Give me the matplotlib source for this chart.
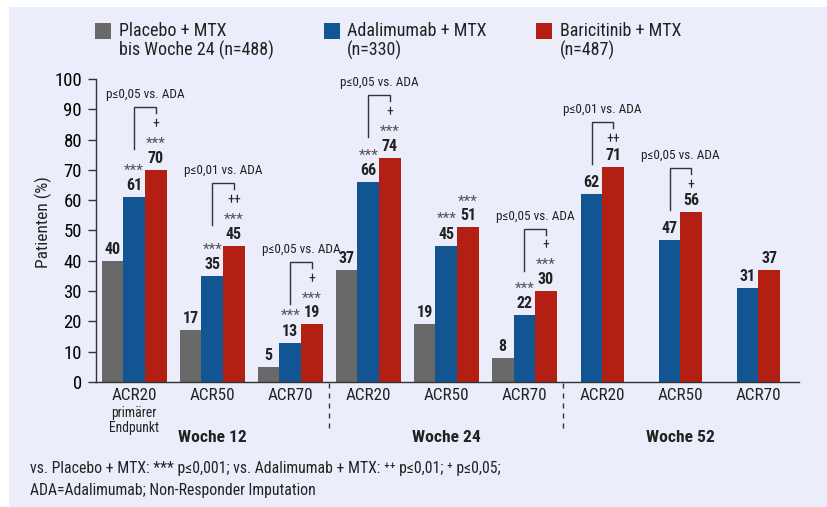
import matplotlib
matplotlib.use('Agg')
import matplotlib.pyplot as plt
from matplotlib import font_manager as fm
from matplotlib.patches import Rectangle
import numpy as np

# ---------------- data ----------------
weeks = ['Woche 12', 'Woche 24', 'Woche 52']
categories = ['ACR20', 'ACR50', 'ACR70', 'ACR20', 'ACR50', 'ACR70', 'ACR20', 'ACR50', 'ACR70']
placebo = [40, 17, 5, 37, 19, 8, None, None, None]
adalimumab = [61, 35, 13, 66, 45, 22, 62, 47, 31]
baricitinib = [70, 45, 19, 74, 51, 30, 71, 56, 37]
stars_vs_placebo = [True, True, True, True, True, True, False, False, False]
plus_vs_ada = ['+', '++', '+', '+', '', '+', '++', '+', '']
p_text_vs_ada = ['p≤0,05 vs. ADA', 'p≤0,01 vs. ADA', 'p≤0,05 vs. ADA',
                 'p≤0,05 vs. ADA', '', 'p≤0,05 vs. ADA',
                 'p≤0,01 vs. ADA', 'p≤0,05 vs. ADA', '']
legend_line1 = ['Placebo + MTX', 'Adalimumab + MTX', 'Baricitinib + MTX']
legend_line2 = ['bis Woche 24 (n=488)', '(n=330)', '(n=487)']
sub_label_1 = 'primärer'
sub_label_2 = 'Endpunkt'
yticks = list(range(0, 101, 10))
ylabel = 'Patienten (%)'
footnote1 = 'vs. Placebo + MTX: *** p≤0,001; vs. Adalimumab + MTX: \u207a\u207a p≤0,01; \u207a p≤0,05;'
footnote2 = 'ADA=Adalimumab; Non-Responder Imputation'

# ---------------- style ----------------
W, H = 827, 507
BG = '#ebeefa'
C_PLA = '#696969'
C_ADA = '#115592'
C_BAR = '#b41f14'
TXT = '#222222'

avail = {f.name for f in fm.fontManager.ttflist}
FONT = None
for cand in ['Liberation Sans Narrow', 'Roboto Condensed', 'Noto Sans Condensed',
             'Open Sans Condensed', 'DejaVu Sans Condensed', 'Noto Sans SemiCondensed']:
    if cand in avail:
        FONT = cand
        break
STRETCH = 'normal'
if FONT is None:
    cond = [f for f in fm.fontManager.ttflist
            if f.name == 'DejaVu Sans' and 'condensed' in str(f.stretch)]
    if cond:
        FONT = 'DejaVu Sans'
        STRETCH = 'condensed'
    else:
        FONT = 'Roboto' if 'Roboto' in avail else 'DejaVu Sans'
plt.rcParams['font.family'] = [FONT, 'DejaVu Sans']
plt.rcParams['font.stretch'] = STRETCH
plt.rcParams['text.color'] = TXT

fig = plt.figure(figsize=(W / 100, H / 100), dpi=100)
fig.patch.set_facecolor('white')
fig.add_artist(Rectangle((9 / W, 0), 1, 1 - 7 / H, transform=fig.transFigure,
                         facecolor=BG, edgecolor='none', zorder=-10))

ax_l, ax_r, ax_t, ax_b = 96, 799, 79, 382
ax = fig.add_axes([ax_l / W, 1 - ax_b / H, (ax_r - ax_l) / W, (ax_b - ax_t) / H])
ax.set_facecolor('none')
ax.set_xlim(-0.49, 8.52)
ax.set_ylim(0, 100)
PX = 100 / (ax_b - ax_t)  # data units per pixel (y)

for s in ['top', 'right']:
    ax.spines[s].set_visible(False)
for s in ['left', 'bottom']:
    ax.spines[s].set_color('#333333')
    ax.spines[s].set_linewidth(1.0)
ax.set_yticks(yticks)
ax.set_yticklabels([str(v) for v in yticks], fontsize=13.5)
ax.tick_params(axis='y', direction='out', length=5.5, width=1, color='#333333', pad=4.5)
ax.set_xticks([])


def ftext(xp, yp, s, **kw):
    fig.text(xp / W, 1 - yp / H, s, **kw)


ftext(43, 222, ylabel, ha='center', va='center', rotation=90, fontsize=12.5)

x = np.arange(len(categories))
w = 0.278
has_pla = np.array([p is not None for p in placebo])
pla_x = x[has_pla] - w
pla_v = [p for p in placebo if p is not None]
ada_x = np.where(has_pla, x, x - w / 2)
bar_x = np.where(has_pla, x + w, x + w / 2)

ax.bar(pla_x, pla_v, width=w, color=C_PLA, align='center', zorder=2)
ax.bar(ada_x, adalimumab, width=w, color=C_ADA, align='center', zorder=2)
ax.bar(bar_x, baricitinib, width=w, color=C_BAR, align='center', zorder=2)

VAL_FS = 11.5
for xs, vs in [(pla_x, pla_v), (ada_x, adalimumab), (bar_x, baricitinib)]:
    for xi, v in zip(xs, vs):
        ax.text(xi, v + 11.5 * PX, str(v), ha='center', va='center',
                fontsize=VAL_FS, fontweight='bold', color=TXT, zorder=5)

STAR_C = '#555555'
STAR_FS = 11
for i in range(len(categories)):
    r = baricitinib[i]
    level = 11.5
    if stars_vs_placebo[i]:
        ax.text(ada_x[i], adalimumab[i] + 28 * PX, '***', ha='center', va='center_baseline',
                fontsize=STAR_FS, color=STAR_C)
        level = 29.5
        ax.text(bar_x[i], r + (level - 2) * PX, '***', ha='center', va='center_baseline',
                fontsize=STAR_FS, color=STAR_C)
    if plus_vs_ada[i]:
        level += 16
        ax.text(bar_x[i], r + level * PX, plus_vs_ada[i], ha='center', va='center',
                fontsize=10, color=TXT)
    if p_text_vs_ada[i]:
        top = level + 17
        ax.plot([ada_x[i], ada_x[i], bar_x[i], bar_x[i]],
                [r + (top - 42) * PX, r + top * PX, r + top * PX, r + (top - 6) * PX],
                color='#333333', lw=1.0, clip_on=False, zorder=4,
                solid_joinstyle='miter')
        ax.text((ada_x[i] + bar_x[i]) / 2, r + (top + 12.5) * PX, p_text_vs_ada[i],
                ha='center', va='center', fontsize=9.5, color=TXT)

# category labels
for i, c in enumerate(categories):
    ax.text(x[i], -14 * PX, c, ha='center', va='center', fontsize=12.3, color=TXT,
            clip_on=False)
ax.text(x[0], -31 * PX, sub_label_1, ha='center', va='center', fontsize=9.8,
        color=TXT, clip_on=False)
ax.text(x[0], -46 * PX, sub_label_2, ha='center', va='center', fontsize=9.8,
        color=TXT, clip_on=False)
for k, wk in enumerate(weeks):
    ax.text(np.mean(x[3 * k:3 * k + 3]), -56 * PX, wk, ha='center', va='center',
            fontsize=12.6, fontweight='bold', color=TXT, clip_on=False)
for sep in [2.5, 5.5]:
    ax.plot([sep, sep], [-1 * PX, -50 * PX], color='#333333', lw=1.0,
            ls=(0, (3.6, 3.6)), clip_on=False)

# legend
for sq_x, tx, col, l1, l2 in zip([95, 324, 536], [119, 347, 560],
                                 [C_PLA, C_ADA, C_BAR], legend_line1, legend_line2):
    fig.add_artist(Rectangle((sq_x / W, 1 - 39 / H), 16 / W, 16 / H,
                             transform=fig.transFigure, facecolor=col, edgecolor='none'))
    ftext(tx, 31, l1, ha='left', va='center', fontsize=13)
    ftext(tx, 50, l2, ha='left', va='center', fontsize=13)

ftext(30, 469, footnote1, ha='left', va='center', fontsize=11.3)
ftext(30, 490, footnote2, ha='left', va='center', fontsize=11.3)

fig.savefig('out.png', dpi=100, facecolor=fig.get_facecolor())
